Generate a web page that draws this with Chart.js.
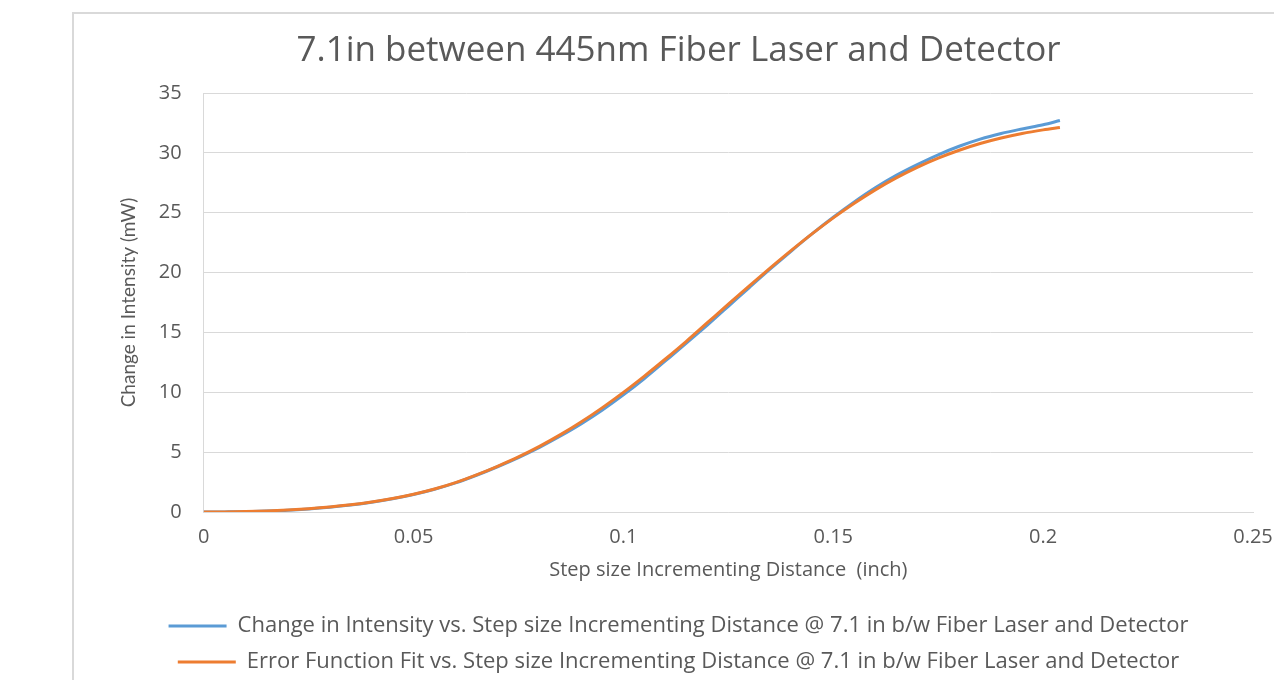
<!DOCTYPE html>
<html>
<head>
<meta charset="utf-8">
<script src="https://cdn.jsdelivr.net/npm/chart.js@4.4.1/dist/chart.umd.min.js"></script>
<style>
    html, body { margin: 0; padding: 0; background: #fff; overflow: hidden; width: 1274px; height: 680px; }
    #frame { position: absolute; left: 72px; top: 12px; width: 1260px; height: 700px; border: 2px solid #d9d9d9; }
    #myChart-intensity { position: absolute; left: 74px; top: 14px; }
</style>
</head>
<body>
<div id="frame"></div>
<canvas id="myChart-intensity" width="1230" height="669"></canvas>
<script>
// step size distance (inch)
var xSteps = [0, 0.005, 0.01, 0.015, 0.02, 0.025, 0.03, 0.035, 0.04, 0.045, 0.05, 0.055, 0.06, 0.065, 0.07, 0.075, 0.08, 0.085, 0.09, 0.095, 0.1,
    0.105, 0.11, 0.115, 0.12, 0.125, 0.13, 0.135, 0.14, 0.145, 0.15, 0.155, 0.16, 0.165, 0.17, 0.175, 0.18, 0.185, 0.19, 0.195, 0.2, 0.204]

// change in intensity (mW), measured
var measuredIntensity = [0.00, 0.01, 0.03, 0.08, 0.15, 0.26, 0.40, 0.58, 0.81, 1.10, 1.46, 1.90, 2.43, 3.07, 3.78, 4.55, 5.40, 6.35, 7.38, 8.52, 9.78,
    11.15, 12.62, 14.10, 15.62, 17.18, 18.75, 20.30, 21.80, 23.25, 24.62, 25.90, 27.08, 28.12, 29.02, 29.84, 30.55, 31.15, 31.62, 32.00, 32.35, 32.70]

// error function fit (mW)
var fitIntensity = [0.00, 0.01, 0.04, 0.09, 0.17, 0.28, 0.42, 0.60, 0.83, 1.12, 1.48, 1.92, 2.45, 3.10, 3.82, 4.60, 5.48, 6.46, 7.54, 8.72, 9.99,
    11.35, 12.78, 14.26, 15.81, 17.36, 18.89, 20.39, 21.85, 23.25, 24.57, 25.79, 26.91, 27.91, 28.79, 29.56, 30.22, 30.78, 31.24, 31.62, 31.92, 32.12]

var xTickLabels = ['0', '0.05', '0.1', '0.15', '0.2', '0.25']
var seriesNames = [
    'Change in Intensity vs. Step size Incrementing Distance @ 7.1 in b/w Fiber Laser and Detector',
    'Error Function Fit vs. Step size Incrementing Distance @ 7.1 in b/w Fiber Laser and Detector'
]

var textColor = '#595959'
var gridColor = '#d9d9d9'

var ctx = document.getElementById('myChart-intensity').getContext('2d');
var chart = new Chart(ctx, {
    type: 'line',
    data: {
        datasets: [{
            label: seriesNames[0],
            data: xSteps.map((x, i) => ({ x: x, y: measuredIntensity[i] })),
            borderColor: '#5B9BD5',
            backgroundColor: '#5B9BD5',
            borderWidth: 3,
            pointRadius: 0,
            cubicInterpolationMode: 'monotone',
            order: 2
        }, {
            label: seriesNames[1],
            data: xSteps.map((x, i) => ({ x: x, y: fitIntensity[i] })),
            borderColor: '#ED7D31',
            backgroundColor: '#ED7D31',
            borderWidth: 3,
            pointRadius: 0,
            cubicInterpolationMode: 'monotone',
            order: 1
        }]
    },
    options: {
        responsive: false,
        animation: false,
        layout: {
            padding: { left: 30, right: 51, top: 0, bottom: 0 }
        },
        plugins: {
            title: {
                display: true,
                text: '7.1in between 445nm Fiber Laser and Detector',
                color: textColor,
                font: { family: 'Open Sans', size: 35, weight: 'normal' },
                padding: { top: 16, bottom: 21 }
            },
            legend: {
                position: 'bottom',
                labels: {
                    color: textColor,
                    font: { family: 'Open Sans', size: 22 },
                    usePointStyle: true,
                    pointStyle: 'line',
                    pointStyleWidth: 58,
                    padding: 14,
                    sort: (a, b) => a.datasetIndex - b.datasetIndex
                }
            },
            tooltip: { enabled: false }
        },
        scales: {
            x: {
                type: 'linear',
                min: 0,
                max: 0.25,
                ticks: {
                    stepSize: 0.05,
                    color: textColor,
                    font: { family: 'Open Sans', size: 20 },
                    padding: 13,
                    callback: function (value, index) { return xTickLabels[index] }
                },
                grid: { display: false, drawTicks: false },
                border: { display: true, color: gridColor, width: 1 },
                title: {
                    display: true,
                    text: 'Step size Incrementing Distance  (inch)',
                    color: textColor,
                    font: { family: 'Open Sans', size: 20 },
                    padding: { top: -4, bottom: 19 }
                }
            },
            y: {
                min: 0,
                max: 35,
                ticks: {
                    stepSize: 5,
                    color: textColor,
                    font: { family: 'Open Sans', size: 20 },
                    padding: 22
                },
                grid: { color: gridColor, lineWidth: 1, drawTicks: false },
                border: { display: true, color: gridColor, width: 1 },
                title: {
                    display: true,
                    text: 'Change in Intensity (mW)',
                    color: textColor,
                    font: { family: 'Lato', size: 19 },
                    padding: { top: 13, bottom: -3 }
                }
            }
        }
    }
});
</script>
</body>
</html>
